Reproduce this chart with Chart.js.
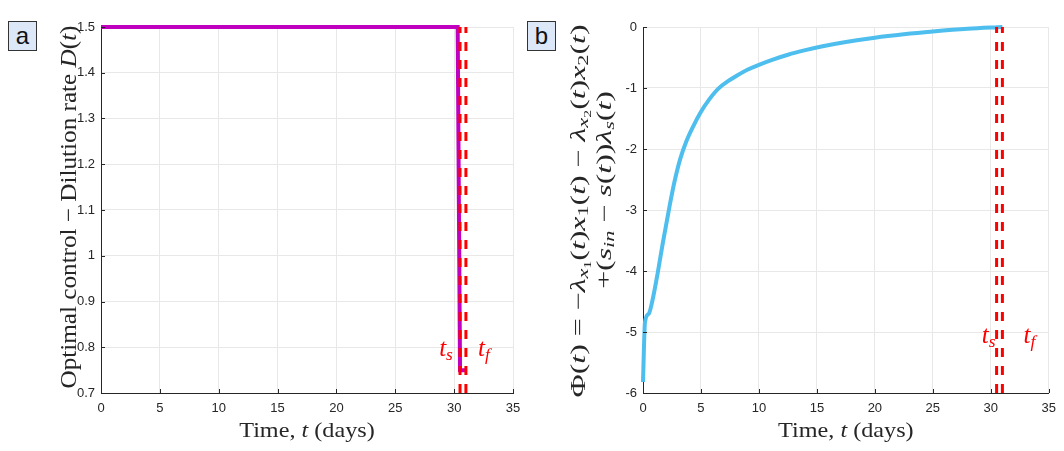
<!DOCTYPE html>
<html><head><meta charset="utf-8">
<script src="https://cdn.jsdelivr.net/npm/chart.js@4.4.1/dist/chart.umd.min.js"></script>
<style>
body{margin:0;background:#fff;width:1064px;height:451px;overflow:hidden;position:relative;font-family:"Liberation Sans",Arial,sans-serif}
canvas{position:absolute;top:0}
.tag{position:absolute;width:29px;height:30px;border:1px solid #333;background:#dce7f7;font:24px "Liberation Sans",Arial,sans-serif;color:#111;text-align:center;line-height:28px;box-sizing:border-box}
</style></head><body>
<canvas id="ca" width="530" height="451" style="left:0"></canvas>
<canvas id="cb" width="534" height="451" style="left:530px"></canvas>
<div class="tag" style="left:8px;top:21px">a</div>
<div class="tag" style="left:527px;top:21px">b</div>
<script>
// ---- data ----
const timeA = [0, 30.3, 30.5, 30.95];
const dilution = [1.5, 1.5, 0.75, 0.75];
const timeB = [0, 0.17, 0.5, 0.85, 1.27, 1.7, 2.3, 2.7, 3.2, 3.75, 4.3, 5.0, 5.7, 6.5, 7.4, 8.2, 9.0, 10, 11.2, 12.5, 14, 15.5, 17.5, 20, 22.5, 25, 28, 31];
const phi = [-5.82, -4.84, -4.70, -4.45, -4.03, -3.55, -2.93, -2.55, -2.17, -1.87, -1.64, -1.39, -1.19, -1.01, -0.88, -0.785, -0.70, -0.62, -0.535, -0.455, -0.38, -0.315, -0.245, -0.175, -0.12, -0.075, -0.03, 0];
const ts = 30.5, tf = 31.0;
const xTicks = [0, 5, 10, 15, 20, 25, 30, 35];
const yTicksA = [0.7, 0.8, 0.9, 1, 1.1, 1.2, 1.3, 1.4, 1.5];
const yTicksB = [-6, -5, -4, -3, -2, -1, 0];

const SERIF = '"Liberation Serif","Times New Roman",serif';
const SANS = '"Liberation Sans",Arial,sans-serif';

function pts(xs, ys){ return xs.map((x,i)=>({x:x, y:ys[i]})); }

// rich text: segs {t, i:italic, s:sub level}
function segFont(seg, F){
  const size = seg.s===2 ? F*0.5 : seg.s===1 ? F*0.7 : F;
  return {font:(seg.i?'italic ':'') + size.toFixed(1) + 'px ' + SERIF, dy: seg.s===2 ? F*0.42 : seg.s===1 ? F*0.25 : 0};
}
function richWidth(ctx, segs, F){
  let w = 0; ctx.save();
  segs.forEach(s=>{ ctx.font = segFont(s,F).font; w += ctx.measureText(s.t).width; });
  ctx.restore(); return w;
}
function drawRich(ctx, segs, cx, cy, rot, F, color, sx){
  sx = sx || 1;
  ctx.save();
  ctx.translate(cx, cy); ctx.rotate(rot); ctx.scale(sx, 1);
  ctx.fillStyle = color; ctx.textBaseline = 'middle'; ctx.textAlign='left';
  let w = 0;
  const ms = segs.map(s=>{const f=segFont(s,F); ctx.font=f.font; const m=ctx.measureText(s.t).width; w+=m; return {f,m};});
  let x = -w/2;
  segs.forEach((s,k)=>{ ctx.font = ms[k].f.font; ctx.fillText(s.t, x, ms[k].f.dy); x += ms[k].m; });
  ctx.restore();
}
const T = (t)=>({t}); const I = (t)=>({t,i:1});
const timeTitle = [T('Time, '), I('t'), T(' (days)')];

function makePlugin(cfg){
  return {
    id:'deco',
    afterDraw(chart){
      const ctx = chart.ctx, a = chart.chartArea;
      const xs = chart.scales.x, ys = chart.scales.y;
      ctx.save();
      ctx.strokeStyle = '#262626'; ctx.lineWidth = 1;
      xs.ticks.forEach(t=>{ const px = Math.round(xs.getPixelForValue(t.value))+0.5; ctx.beginPath(); ctx.moveTo(px, a.bottom); ctx.lineTo(px, a.bottom-4); ctx.stroke(); });
      ys.ticks.forEach(t=>{ const py = Math.round(ys.getPixelForValue(t.value))+0.5; ctx.beginPath(); ctx.moveTo(a.left, py); ctx.lineTo(a.left+4, py); ctx.stroke(); });
      ctx.restore();
      drawRich(ctx, timeTitle, (a.left+a.right)/2, 431, 0, 22, '#262626', 1.1);
      const F = cfg.titleF;
      const sx = cfg.titleW / richWidth(ctx, cfg.yTitles[0].segs, F);
      cfg.yTitles.forEach(l=> drawRich(ctx, l.segs, l.x, l.y, -Math.PI/2, F, '#262626', sx));
      cfg.marks.forEach(m=>{
        drawRich(ctx, m.segs, xs.getPixelForValue(m.xv)+m.dx, ys.getPixelForValue(m.yv), 0, 25, '#ff0000', 1);
      });
    }
  };
}

function scales(yTicks, ymin, ymax, yw){
  return {
    x:{type:'linear', min:0, max:35,
       afterBuildTicks(s){ s.ticks = xTicks.map(v=>({value:v})); },
       afterFit(s){ s.height = 58; },
       ticks:{callback:v=>String(v), color:'#262626', font:{family:SANS,size:13}, padding:8, maxRotation:0},
       grid:{color:'#e8e8e8', drawTicks:false}, border:{display:true,color:'#262626'}},
    y:{type:'linear', min:ymin, max:ymax,
       afterBuildTicks(s){ s.ticks = yTicks.map(v=>({value:v})); },
       afterFit(s){ s.width = yw; },
       ticks:{callback:v=>String(v), color:'#262626', font:{family:SANS,size:13}, padding:6},
       grid:{color:'#e8e8e8', drawTicks:false}, border:{display:true,color:'#262626'}}
  };
}

function redLine(t, ymin, ymax){
  return {data:pts([t,t],[ymin,ymax]), showLine:true, borderColor:'#ff0000', borderWidth:3, borderDash:[9,9], pointRadius:0, clip:false};
}

const ts_l = [I('t'), {t:'s', i:1, s:1}];
const tf_l = [I('t'), {t:'f', i:1, s:1}];

new Chart(document.getElementById('ca'), {
  type:'scatter',
  data:{datasets:[
    redLine(ts, 0.7, 1.5), redLine(tf, 0.7, 1.5),
    {data:pts(timeA, dilution), showLine:true, borderColor:'#bf00bf', borderWidth:4, pointRadius:0, clip:false, tension:0}
  ]},
  options:{responsive:false, animation:false, events:[],
    layout:{padding:{left:0, top:27, right:17, bottom:0}},
    plugins:{legend:{display:false}, tooltip:{enabled:false}},
    scales:scales(yTicksA, 0.7, 1.5, 101)},
  plugins:[makePlugin({
    titleW: 363, titleF: 23,
    yTitles:[{x:70, y:207, segs:[T('Optimal control − Dilution rate '), I('D'), T('('), I('t'), T(')')]}],
    marks:[{segs:ts_l, xv:ts, dx:-14, yv:0.795},{segs:tf_l, xv:tf, dx:18, yv:0.795}]
  })]
});

const phiL1 = [T('Φ('), I('t'), T(') = −'), I('λ'), {t:'x',i:1,s:1}, {t:'1',s:2}, T('('), I('t'), T(')'), I('x'), {t:'1',s:1}, T('('), I('t'), T(') − '), I('λ'), {t:'x',i:1,s:1}, {t:'2',s:2}, T('('), I('t'), T(')'), I('x'), {t:'2',s:1}, T('('), I('t'), T(')')];
const phiL2 = [T('+('), I('s'), {t:'in',i:1,s:1}, T(' − '), I('s'), T('('), I('t'), T('))'), I('λ'), {t:'s',i:1,s:1}, T('('), I('t'), T(')')];

new Chart(document.getElementById('cb'), {
  type:'scatter',
  data:{datasets:[
    redLine(ts, -6, 0), redLine(tf, -6, 0),
    {data:pts(timeB, phi), showLine:true, borderColor:'#4dbeee', borderWidth:4, pointRadius:0, clip:false, cubicInterpolationMode:'monotone'}
  ]},
  options:{responsive:false, animation:false, events:[],
    layout:{padding:{left:0, top:27, right:9, bottom:0}},
    plugins:{legend:{display:false}, tooltip:{enabled:false}},
    scales:scales(yTicksB, -6, 0, 113)},
  plugins:[makePlugin({
    titleW: 373, titleF: 21,
    yTitles:[{x:49, y:211, segs:phiL1},{x:75, y:190, segs:phiL2}],
    marks:[{segs:ts_l, xv:ts, dx:-8, yv:-5.07},{segs:tf_l, xv:tf, dx:27, yv:-5.07}]
  })]
});
</script>
</body></html>
